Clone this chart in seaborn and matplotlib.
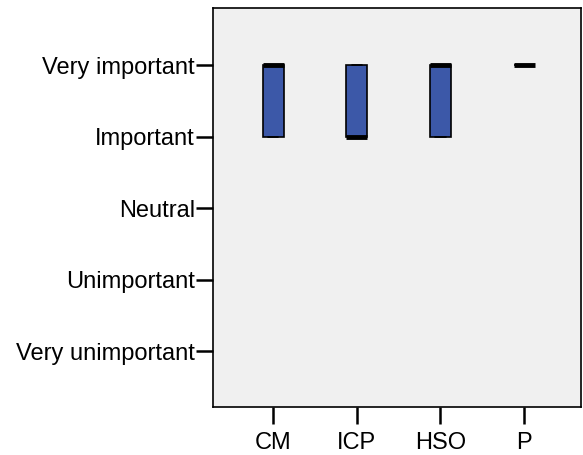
import matplotlib
matplotlib.use("Agg")
import matplotlib.pyplot as plt
import seaborn as sns
import pandas as pd

categories = ["CM", "ICP", "HSO", "P"]
responses_cm = [4, 4, 4, 5, 5, 5, 5, 5]
responses_icp = [4, 4, 4, 4, 4, 5, 5, 5]
responses_hso = [4, 4, 4, 5, 5, 5, 5, 5]
responses_p = [5, 5, 5, 5, 5, 5, 5, 5]
scale_values = [1, 2, 3, 4, 5]
scale_labels = ["Very unimportant", "Unimportant", "Neutral", "Important", "Very important"]

rows = []
for cat, vals in zip(categories, [responses_cm, responses_icp, responses_hso, responses_p]):
    for v in vals:
        rows.append({"cat": cat, "val": v})
df = pd.DataFrame(rows)

sns.set_style("white")
plt.rcParams["font.family"] = ["Liberation Sans", "DejaVu Sans"]

fig = plt.figure(figsize=(5.83, 4.55), dpi=100)
ax = fig.add_axes([213/583, 1-407/455, (581-213)/583, (407-8)/455])
ax.set_facecolor("#f0f0f0")

sns.boxplot(data=df, x="cat", y="val", order=categories, color="#3c58a8", saturation=1,
            width=0.25, linecolor="black", linewidth=1.2, whis=1.5, showfliers=False,
            medianprops=dict(color="black", linewidth=3.5), ax=ax)

ax.set_xlim(-0.72, 3.68)
ax.set_ylim(0.22, 5.8)
ax.set_yticks(scale_values)
ax.set_yticklabels(scale_labels)
ax.set_xlabel("")
ax.set_ylabel("")
ax.tick_params(axis="both", direction="out", length=12, width=1.8, color="black",
               labelsize=17, labelcolor="black", pad=1, left=True, bottom=True)
ax.tick_params(axis="x", pad=6)
for s in ax.spines.values():
    s.set_color("black")
    s.set_linewidth(1.2)
    s.set_visible(True)

fig.savefig("out.png", dpi=100, facecolor="white")
